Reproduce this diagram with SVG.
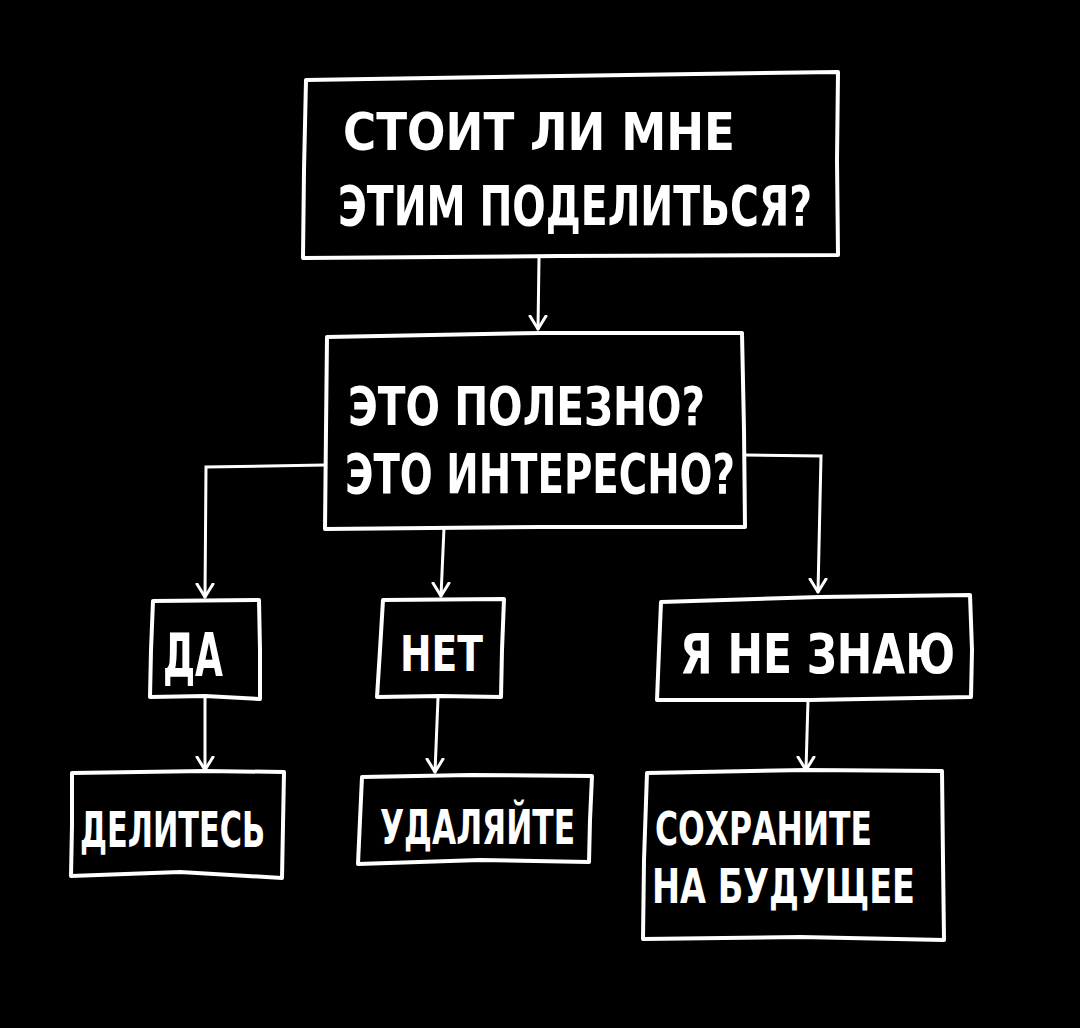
<svg xmlns="http://www.w3.org/2000/svg" width="1080" height="1028" viewBox="0 0 1080 1028">
<style>
.b{fill:none;stroke:#fff;stroke-width:4;stroke-linejoin:round;stroke-linecap:round}
.c{fill:none;stroke:#fff;stroke-width:3;stroke-linecap:round}
.t{fill:#fff;font-family:"DejaVu Sans Condensed","DejaVu Sans",sans-serif;font-weight:bold}
</style>
<defs>
<marker id="a" viewBox="-10 -14 20 16" refX="0" refY="0" markerWidth="20" markerHeight="16" markerUnits="userSpaceOnUse" orient="0">
<path d="M-8,-13 L0,0 L8,-13" fill="none" stroke="#fff" stroke-width="3" stroke-linecap="round" stroke-linejoin="round"/>
</marker>
</defs>
<rect width="1080" height="1028" fill="#000"/>
<g id="connectors">
<path class="c" d="M539,258 L538,329" marker-end="url(#a)"/>
<path class="c" d="M325,465 L206,467 L205,597" marker-end="url(#a)"/>
<path class="c" d="M444,528 L441,596" marker-end="url(#a)"/>
<path class="c" d="M745,455 L821,456 L818,592" marker-end="url(#a)"/>
<path class="c" d="M205,698 L205,770" marker-end="url(#a)"/>
<path class="c" d="M438,698 L435,772" marker-end="url(#a)"/>
<path class="c" d="M808,700 L806,770" marker-end="url(#a)"/>
</g>
<g id="n-question">
<path class="b" d="M306,80 L560,76 L838,72 L837,160 L838,255 L560,256 L303,258 L304,170 Z"/>
<text class="t" x="343" y="150" font-size="52" textLength="392" lengthAdjust="spacingAndGlyphs">СТОИТ ЛИ МНЕ</text>
<text class="t" x="338" y="225" font-size="56" textLength="474" lengthAdjust="spacingAndGlyphs">ЭТИМ ПОДЕЛИТЬСЯ?</text>
</g>
<g id="n-useful">
<path class="b" d="M327,337 L540,333 L742,333 L744,430 L745,527 L540,527 L325,529 L326,430 Z"/>
<text class="t" x="348" y="425" font-size="54" textLength="357" lengthAdjust="spacingAndGlyphs">ЭТО ПОЛЕЗНО?</text>
<text class="t" x="345" y="493" font-size="56" textLength="390" lengthAdjust="spacingAndGlyphs">ЭТО ИНТЕРЕСНО?</text>
</g>
<g id="n-yes">
<path class="b" d="M153,601 L259,600 L260,650 L260,699 L205,696 L150,697 L151,650 Z"/>
<text class="t" x="163" y="676" font-size="60" textLength="60" lengthAdjust="spacingAndGlyphs">ДА</text>
</g>
<g id="n-no">
<path class="b" d="M383,600 L504,599 L502,650 L501,697 L440,696 L377,697 L380,650 Z"/>
<text class="t" x="400" y="671" font-size="50" textLength="83" lengthAdjust="spacingAndGlyphs">НЕТ</text>
</g>
<g id="n-dunno">
<path class="b" d="M661,602 L820,597 L970,595 L972,650 L971,697 L810,700 L657,700 L659,650 Z"/>
<text class="t" x="680" y="673" font-size="56" textLength="275" lengthAdjust="spacingAndGlyphs">Я НЕ ЗНАЮ</text>
</g>
<g id="n-share">
<path class="b" d="M72,773 L205,771 L284,772 L283,825 L282,878 L180,872 L71,876 L72,825 Z"/>
<text class="t" x="80" y="847" font-size="50" textLength="185" lengthAdjust="spacingAndGlyphs">ДЕЛИТЕСЬ</text>
</g>
<g id="n-delete">
<path class="b" d="M362,777 L470,775 L592,776 L590,820 L589,862 L480,860 L358,864 L360,820 Z"/>
<text class="t" x="380" y="844" font-size="48" textLength="195" lengthAdjust="spacingAndGlyphs">УДАЛЯЙТЕ</text>
</g>
<g id="n-save">
<path class="b" d="M647,773 L806,770 L942,771 L943,860 L944,940 L800,937 L643,939 L644,860 Z"/>
<text class="t" x="655" y="845" font-size="46" textLength="217" lengthAdjust="spacingAndGlyphs">СОХРАНИТЕ</text>
<text class="t" x="652" y="903" font-size="48" textLength="263" lengthAdjust="spacingAndGlyphs">НА БУДУЩЕЕ</text>
</g>
</svg>
